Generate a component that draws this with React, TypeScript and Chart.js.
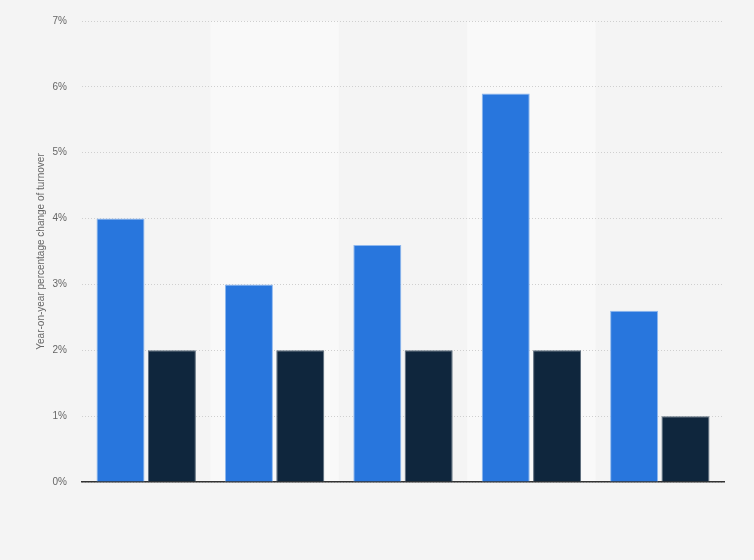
import { Chart, registerables } from 'chart.js';
import { useEffect, useRef } from 'react';

Chart.register(...registerables);

const categories = ['1', '2', '3', '4', '5'];
const blueValues = [4.0, 3.0, 3.6, 5.9, 2.6];
const darkValues = [2, 2, 2, 2, 1];
const yTicks = [0, 1, 2, 3, 4, 5, 6, 7];

// lighter bands behind every second category
const bandPlugin = {
    id: 'bands',
    beforeDraw(chart: any) {
        const { ctx, chartArea, scales } = chart;
        const x = scales.x;
        const step = (chartArea.right - chartArea.left) / categories.length;
        ctx.save();
        ctx.fillStyle = '#f9f9f9';
        categories.forEach((_, i) => {
            if (i % 2 === 1) {
                const cx = x.getPixelForValue(i);
                ctx.fillRect(cx - step / 2, chartArea.top, step, chartArea.bottom - chartArea.top);
            }
        });
        ctx.restore();
    },
};

export default function App() {
    const canvasRef = useRef<HTMLCanvasElement>(null);
    useEffect(() => {
        if (canvasRef.current === null) return;
        const ctx = canvasRef.current.getContext('2d');
        if (ctx === null) return;
        const chart = new Chart(ctx, {
            type: 'bar',
            data: {
                labels: categories,
                datasets: [
                    {
                        label: 'a',
                        data: blueValues,
                        backgroundColor: '#2876dd',
                        borderColor: '#8fb8ee',
                        borderWidth: { top: 1, left: 1, right: 1, bottom: 0 },
                        categoryPercentage: 0.8,
                        barPercentage: 0.935,
                    },
                    {
                        label: 'b',
                        data: darkValues,
                        backgroundColor: '#0f263d',
                        borderColor: '#5a6a7a',
                        borderWidth: { top: 1, left: 1, right: 1, bottom: 0 },
                        categoryPercentage: 0.8,
                        barPercentage: 0.935,
                    },
                ],
            },
            options: {
                animation: false,
                responsive: false,
                layout: { padding: { top: 15, right: 30, bottom: 70, left: 35 } },
                plugins: {
                    legend: { display: false },
                    tooltip: { enabled: false },
                },
                scales: {
                    x: {
                        ticks: { display: false },
                        grid: { display: false },
                        border: { display: true, color: '#333333', width: 1.5 },
                    },
                    y: {
                        min: 0,
                        max: 7,
                        afterBuildTicks: (axis: any) => {
                            axis.ticks = yTicks.map((v) => ({ value: v }));
                        },
                        afterFit: (axis: any) => {
                            axis.width = 47;
                        },
                        ticks: {
                            callback: (v: any) => v + '%',
                            color: '#666666',
                            padding: 15,
                            font: { family: 'Arial, "Liberation Sans", sans-serif', size: 10 },
                        },
                        grid: { color: '#cfcfcf', drawTicks: false },
                        border: { display: false, dash: [1, 2] },
                        title: {
                            display: true,
                            text: 'Year-on-year percentage change of turnover',
                            color: '#666666',
                            padding: { top: 0, bottom: 0 },
                            font: { family: 'Arial, "Liberation Sans", sans-serif', size: 10 },
                        },
                    },
                },
            },
            plugins: [bandPlugin],
        });
        return () => {
            chart.destroy();
        };
    }, []);

    return (
        <div style={{ position: 'fixed', left: 0, top: 0, width: 754, height: 560, background: '#f4f4f4' }}>
            <canvas ref={canvasRef} width={754} height={560}></canvas>
        </div>
    );
}
